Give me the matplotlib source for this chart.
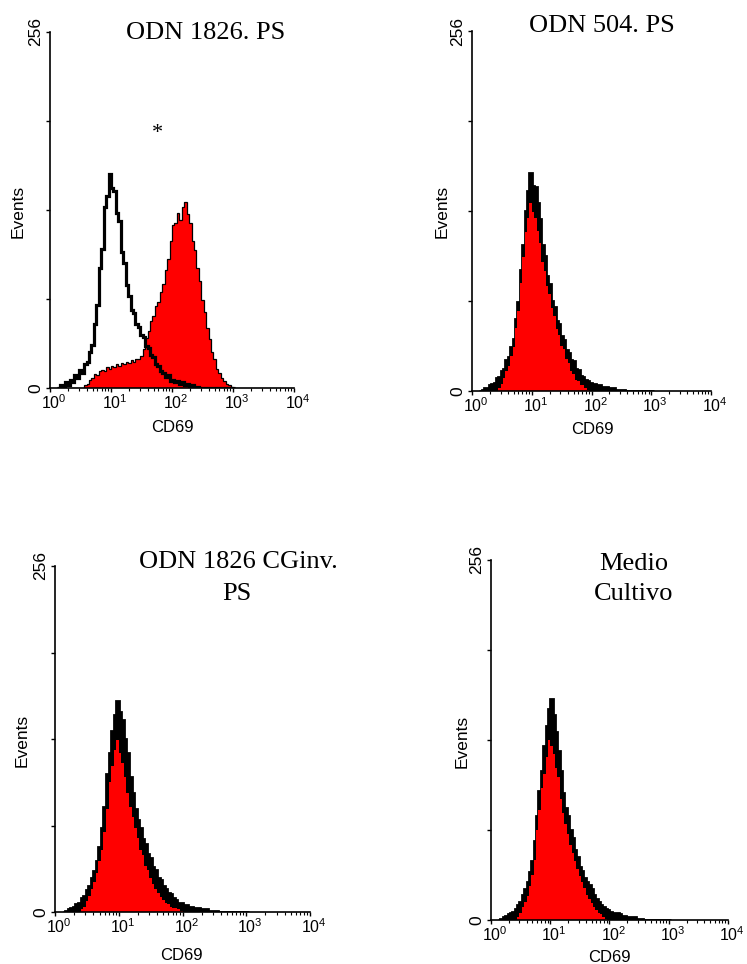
import numpy as np
import matplotlib
matplotlib.use("Agg")
import matplotlib.pyplot as plt
import matplotlib.transforms as mtransforms
from matplotlib.ticker import FixedLocator, NullFormatter, FixedFormatter

plt.rcParams['font.family'] = ['Liberation Sans', 'DejaVu Sans']
plt.rcParams['mathtext.fontset'] = 'custom'
plt.rcParams['mathtext.rm'] = 'Liberation Sans'

# ---------------- data ----------------
# histogram channel grid (log10 of CD69 fluorescence), bins 0.04 decades wide
bin_start_log10 = 0.12
bin_width_log10 = 0.04
n_bins = 73

x_tick_values = [1, 10, 100, 1000, 10000]
x_tick_labels = [r'$\mathregular{10^{0}}$', r'$\mathregular{10^{1}}$', r'$\mathregular{10^{2}}$',
                 r'$\mathregular{10^{3}}$', r'$\mathregular{10^{4}}$']
y_tick_values = [0, 64, 128, 192, 256]
y_tick_labels = ['0', '', '', '', '256']

titles = [["ODN 1826. PS"], ["ODN 504. PS"], ["ODN 1826 CGinv.", "PS"], ["Medio", "Cultivo"]]
x_label = "CD69"
y_label = "Events"
star_text = "*"

# events per channel (from 10^0.12 upward)
p1_control = [0, 2, 1, 4, 2, 6, 4, 9, 7, 13, 11, 17, 19, 26, 31, 46, 60, 86, 100, 130, 138, 154,
              144, 142, 126, 120, 98, 90, 74, 66, 56, 54, 46, 44, 38, 37, 30, 29, 24, 22, 17, 16,
              12, 11, 8, 9, 5, 6, 4, 5, 3, 4, 2, 3, 1, 2, 1, 1, 0]
p1_sample = [0, 0, 0, 0, 0, 0, 0, 0, 0, 0, 0, 2, 3, 6, 7, 10, 9, 12, 13, 12, 15, 14, 16, 15, 17,
             16, 18, 17, 19, 18, 20, 19, 21, 21, 23, 28, 36, 41, 48, 52, 59, 62, 69, 75, 85, 93,
             106, 117, 119, 126, 121, 130, 134, 125, 119, 106, 99, 86, 77, 63, 55, 43, 35, 26,
             21, 14, 11, 7, 5, 3, 2, 1, 0]

p2_control = [0, 1, 2, 2, 4, 5, 6, 9, 10, 14, 16, 22, 24, 31, 37, 51, 63, 86, 104, 128, 142, 155,
              146, 145, 134, 122, 104, 96, 82, 76, 64, 60, 50, 48, 39, 36, 29, 27, 22, 21, 16, 15,
              11, 10, 8, 7, 6, 5, 5, 4, 4, 3, 3, 3, 2, 2, 2, 1, 1, 1, 1, 0]
p2_sample = [0, 0, 0, 0, 0, 0, 0, 0, 2, 5, 9, 14, 18, 25, 31, 45, 57, 77, 95, 113, 123, 134, 127,
             123, 114, 105, 92, 85, 75, 69, 59, 53, 44, 40, 32, 30, 23, 20, 14, 12, 8, 7, 4, 4, 2,
             1, 0]

p3_control = [0, 1, 2, 3, 4, 6, 7, 10, 12, 16, 19, 25, 30, 38, 48, 62, 78, 102, 118, 134, 146, 156,
              148, 142, 128, 118, 100, 88, 76, 68, 62, 54, 50, 43, 40, 33, 31, 25, 24, 19, 17, 14,
              13, 10, 9, 7, 7, 5, 5, 4, 4, 3, 3, 3, 2, 2, 2, 1, 1, 1, 1, 0]
p3_sample = [0, 0, 0, 0, 0, 0, 0, 2, 4, 8, 12, 17, 22, 29, 38, 46, 59, 76, 96, 108, 120, 127, 118,
             110, 100, 88, 78, 70, 62, 55, 46, 42, 34, 31, 25, 21, 17, 14, 11, 9, 7, 6, 4, 3, 3, 2,
             1, 0]

p4_control = [0, 1, 2, 3, 4, 5, 6, 8, 11, 13, 18, 22, 27, 34, 42, 56, 74, 92, 106, 124, 138, 150,
              157, 146, 134, 120, 106, 90, 80, 74, 64, 58, 50, 45, 38, 35, 30, 27, 25, 22, 18, 15,
              13, 11, 9, 8, 7, 6, 5, 5, 5, 4, 3, 3, 2, 2, 2, 2, 1, 1, 1, 0]
p4_sample = [0, 0, 0, 0, 0, 0, 0, 0, 2, 5, 9, 13, 17, 24, 32, 43, 64, 78, 94, 104, 116, 128, 124,
             118, 108, 102, 86, 76, 68, 61, 53, 48, 42, 36, 31, 27, 23, 18, 15, 12, 9, 7, 5, 4, 2,
             1, 0]

controls = [p1_control, p2_control, p3_control, p4_control]
samples = [p1_sample, p2_sample, p3_sample, p4_sample]

# ---------------- layout (pixels) ----------------
W, H = 747, 964
axes_px = [(50, 32, 294, 388), (472, 31, 711, 391), (55, 566, 310, 912), (491, 560, 728, 920)]
title_px = [[(206, 39)], [(602, 32)], [(238, 568), (237, 600)], [(634, 570), (634, 600)]]
xlabel_px = [(172, 428), (592, 429), (181, 955), (609, 958)]
ylabel_px = [(18, 211), (442, 211), (22, 740), (462, 741)]
star_px = (157, 138)
control_filled = [False, True, True, True]

fig = plt.figure(figsize=(W / 100, H / 100), dpi=100)

def padded(v):
    v = np.asarray(v, dtype=float)
    return np.pad(v, (0, n_bins - len(v)))

edges = 10 ** (bin_start_log10 + bin_width_log10 * np.arange(n_bins + 1))

for i in range(4):
    x0, yt, x1, yb = axes_px[i]
    ax = fig.add_axes([x0 / W, 1 - yb / H, (x1 - x0) / W, (yb - yt) / H])
    ctrl = padded(controls[i])
    samp = padded(samples[i])
    if control_filled[i]:
        ax.stairs(ctrl, edges, fill=True, facecolor='black', edgecolor='none', zorder=1)
        ax.stairs(ctrl, edges, color='black', linewidth=2.0, zorder=1.5)
        ax.stairs(samp, edges, fill=True, facecolor='#ff0000', edgecolor='none', zorder=2)
    else:
        ax.stairs(samp, edges, fill=True, facecolor='#ff0000', edgecolor='none', zorder=2)
        ax.stairs(samp, edges, color='black', linewidth=0.9, zorder=3)
        ax.stairs(ctrl, edges, color='black', linewidth=2.3, zorder=4)

    ax.set_xscale('log')
    ax.set_xlim(1, 10000)
    ax.set_ylim(0, 256)
    for s in ['top', 'right']:
        ax.spines[s].set_visible(False)
    for s in ['left', 'bottom']:
        ax.spines[s].set_linewidth(1.2)
        ax.spines[s].set_zorder(5)

    ax.xaxis.set_major_locator(FixedLocator(x_tick_values))
    ax.xaxis.set_major_formatter(FixedFormatter(x_tick_labels))
    minors = [m * 10 ** d for d in range(4) for m in range(2, 10)]
    ax.xaxis.set_minor_locator(FixedLocator(minors))
    ax.xaxis.set_minor_formatter(NullFormatter())
    ax.yaxis.set_major_locator(FixedLocator(y_tick_values))
    ax.yaxis.set_major_formatter(FixedFormatter(y_tick_labels))

    ax.tick_params(axis='x', which='major', length=3.0, width=1.0, pad=0.5, labelsize=11.5, direction='out')
    ax.tick_params(axis='x', which='minor', length=2.0, width=0.8, direction='out')
    ax.tick_params(axis='y', which='major', length=3.0, width=1.0, pad=2.0, labelsize=12.5,
                   labelrotation=90, direction='out')
    for lab in ax.get_yticklabels():
        lab.set_verticalalignment('center')

    offset = mtransforms.ScaledTranslation(4 / 100, 0, fig.dpi_scale_trans)
    for lab in ax.get_xticklabels():
        lab.set_transform(lab.get_transform() + offset)

    for (tx, ty), line in zip(title_px[i], titles[i]):
        fig.text(tx / W, 1 - ty / H, line, ha='center', va='baseline',
                 family='Liberation Serif', fontsize=19)
    lx, ly = xlabel_px[i]
    fig.text(lx / W, 1 - ly / H, x_label, ha='center', va='center', fontsize=12)
    ex, ey = ylabel_px[i]
    fig.text(ex / W, 1 - ey / H, y_label, ha='center', va='center', rotation=90, fontsize=12.5)

fig.text(star_px[0] / W, 1 - star_px[1] / H, star_text, ha='center', va='baseline',
         family='Liberation Serif', fontsize=16)

fig.savefig('out.png', dpi=100)
